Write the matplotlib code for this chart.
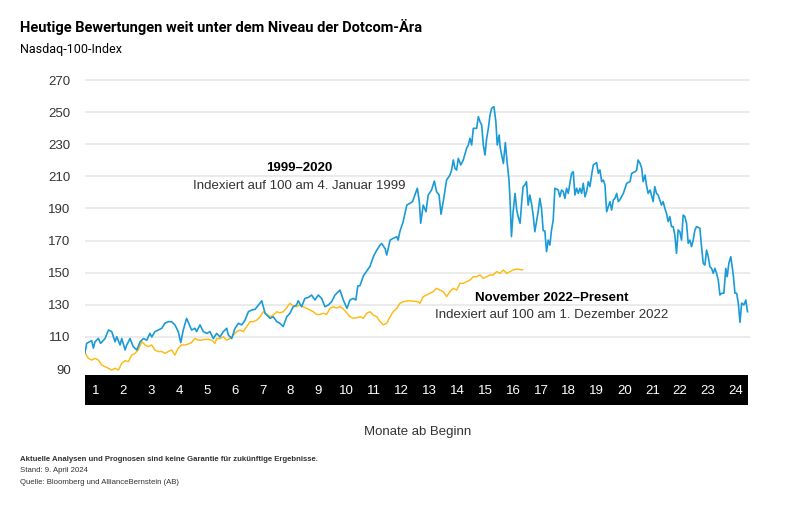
import matplotlib
matplotlib.use("Agg")
import matplotlib.pyplot as plt
from matplotlib import font_manager
import numpy as np

# Nasdaq-100, indexed to 100 at start; x = months since start
months_9920 = [
    0.00, 0.06, 0.24, 0.30, 0.36, 0.48, 0.56, 0.72, 0.84, 0.96, 1.08, 1.14, 1.26, 1.32, 1.44, 1.50,
    1.62, 1.73, 1.86, 1.98, 2.10, 2.22, 2.33, 2.40, 2.51, 2.63, 2.76, 2.87, 2.99, 3.11, 3.23, 3.35,
    3.44, 3.53, 3.65, 3.75, 3.83, 3.95, 4.01, 4.13, 4.25, 4.38, 4.49, 4.61, 4.73, 4.85, 4.97, 5.09,
    5.15, 5.27, 5.39, 5.51, 5.63, 5.75, 5.87, 5.99, 6.11, 6.23, 6.35, 6.47, 6.65, 6.76, 6.89, 7.00,
    7.12, 7.25, 7.36, 7.48, 7.60, 7.66, 7.78, 7.90, 8.02, 8.14, 8.26, 8.38, 8.50, 8.62, 8.74, 8.86,
    8.98, 9.16, 9.28, 9.41, 9.52, 9.64, 9.73, 9.80, 9.88, 10.00, 10.12, 10.24, 10.36, 10.48, 10.60,
    10.66, 10.78, 10.84, 10.96, 11.07, 11.20, 11.25, 11.31, 11.43, 11.56, 11.67, 11.77, 11.85, 11.94,
    12.01, 12.06, 12.15, 12.25, 12.33, 12.45, 12.55, 12.63, 12.72, 12.79, 12.87, 12.99, 13.11, 13.17,
    13.23, 13.29, 13.35, 13.41, 13.50, 13.59, 13.71, 13.77, 13.83, 13.89, 13.95, 14.07, 14.13, 14.19,
    14.25, 14.31, 14.37, 14.43, 14.49, 14.55, 14.61, 14.69, 14.76, 14.81, 14.88, 14.91, 15.03, 15.10,
    15.17, 15.23, 15.27, 15.32, 15.38, 15.45, 15.51, 15.56, 15.63, 15.69, 15.74, 15.80, 15.86, 15.92,
    15.98, 16.05, 16.10, 16.16, 16.23, 16.28, 16.34, 16.40, 16.46, 16.52, 16.58, 16.64, 16.70, 16.76,
    16.82, 16.88, 17.00, 17.06, 17.12, 17.18, 17.24, 17.30, 17.36, 17.42, 17.48, 17.54, 17.60, 17.66,
    17.72, 17.78, 17.84, 17.90, 17.96, 18.02, 18.08, 18.14, 18.20, 18.26, 18.38, 18.44, 18.50, 18.56,
    18.62, 18.68, 18.74, 18.80, 18.86, 18.92, 18.98, 19.04, 19.10, 19.16, 19.22, 19.34, 19.46, 19.58,
    19.64, 19.76, 19.82, 19.87, 19.94, 20.00, 20.05, 20.12, 20.17, 20.23, 20.30, 20.35, 20.41, 20.47,
    20.53, 20.59, 20.65, 20.71, 20.77, 20.83, 20.89, 20.95, 21.01, 21.07, 21.13, 21.19, 21.25, 21.31,
    21.37, 21.43, 21.49, 21.55, 21.61, 21.67, 21.73, 21.79, 21.85, 21.91, 21.97, 22.09, 22.15, 22.21,
    22.27, 22.33, 22.39, 22.45, 22.51, 22.57, 22.63, 22.69, 22.75, 22.81, 22.87, 22.95, 23.02, 23.07,
    23.13, 23.20, 23.29, 23.35, 23.41, 23.47, 23.53, 23.59, 23.67, 23.74, 23.80,
]
nasdaq_9920 = [
    100.2, 106.0, 107.7, 103.0, 107.0, 109.1, 106.0, 109.0, 114.3, 113.3, 107.0, 110.1, 105.0, 109.0, 101.9, 105.0,
    109.0, 104.0, 101.9, 107.0, 109.0, 108.0, 112.2, 110.0, 113.3, 114.3, 115.4, 118.5, 119.5, 119.5, 117.5, 113.3,
    106.5, 114.3, 121.6, 117.5, 114.3, 115.4, 113.3, 117.5, 113.3, 112.2, 113.3, 109.0, 112.2, 110.0, 113.3, 115.4,
    111.2, 109.0, 115.4, 118.5, 117.5, 120.5, 125.7, 126.8, 127.2, 129.9, 132.5, 124.7, 121.6, 122.6, 119.5, 118.5,
    116.5, 122.6, 124.7, 128.8, 129.9, 132.5, 128.8, 134.0, 134.6, 136.1, 133.0, 136.1, 134.0, 128.8, 129.9, 131.9,
    136.1, 139.2, 133.0, 127.8, 133.0, 134.0, 133.0, 141.7, 142.0, 148.0, 151.0, 154.0, 160.0, 164.0, 167.2,
    168.2, 165.0, 161.0, 170.3, 171.4, 172.4, 170.3, 175.5, 181.8, 192.1, 193.2, 194.3, 198.4, 202.6,
    194.3, 180.8, 192.1, 188.0, 198.4, 201.5, 207.1, 200.5, 198.4, 186.4, 194.3, 207.7, 210.8, 213.9,
    220.2, 215.0, 213.9, 221.2, 217.1, 220.2, 227.5, 229.5, 233.7, 229.5, 239.9, 239.9, 247.2, 244.1,
    242.0, 229.5, 223.3, 233.7, 239.9, 248.2, 252.4, 253.4, 244.1, 229.5, 235.8, 228.5, 218.0, 231.0,
    218.0, 208.0, 195.3, 172.5, 188.0, 199.4, 189.0, 184.9, 180.8, 194.3, 203.6, 204.6, 206.7, 192.1,
    198.4, 192.1, 185.9, 175.5, 182.8, 188.0, 196.3, 190.1, 176.2, 176.0, 163.1, 170.3, 167.2, 176.6,
    182.8, 202.6, 201.5, 197.3, 201.5, 200.5, 196.3, 202.6, 199.4, 205.7, 211.9, 212.9, 198.4, 202.6,
    199.4, 202.6, 199.4, 205.7, 197.3, 200.5, 206.7, 203.6, 210.8, 217.1, 218.6, 211.9, 214.0, 206.7,
    207.7, 204.6, 188.0, 191.1, 194.3, 189.0, 195.3, 196.3, 199.4, 194.3, 195.5, 199.4, 205.7, 206.7,
    211.9, 212.9, 213.9, 220.2, 218.1, 215.0, 206.7, 210.8, 204.6, 199.4, 201.5, 198.4, 194.3, 203.6,
    199.4, 198.4, 195.3, 192.1, 194.3, 190.1, 187.0, 181.8, 184.9, 178.7, 178.7, 173.5, 162.1, 176.6,
    175.5, 170.3, 185.9, 184.9, 180.8, 168.3, 170.3, 166.2, 170.3, 176.6, 178.7, 177.7, 166.2, 155.8,
    154.8, 164.1, 160.0, 153.8, 152.7, 149.6, 152.7, 149.6, 145.4, 136.1, 137.2, 137.2, 152.7, 147.5,
    155.8, 160.0, 148.6, 137.2, 137.2, 131.1, 119.1, 131.1, 129.9, 133.0, 125.7,
]

months_22 = [
    0.00, 0.12, 0.24, 0.36, 0.48, 0.60, 0.72, 0.84, 0.96, 1.08, 1.20, 1.32, 1.44, 1.56, 1.68, 1.80,
    1.91, 2.04, 2.16, 2.27, 2.40, 2.51, 2.63, 2.76, 2.87, 2.99, 3.11, 3.23, 3.35, 3.47, 3.59, 3.71,
    3.83, 3.95, 4.07, 4.19, 4.31, 4.43, 4.55, 4.67, 4.73, 4.85, 4.97, 5.09, 5.21, 5.33, 5.45, 5.57,
    5.69, 5.81, 5.93, 6.05, 6.17, 6.29, 6.40, 6.53, 6.65, 6.76, 6.89, 7.00, 7.12, 7.25, 7.36, 7.48,
    7.60, 7.72, 7.84, 7.96, 8.08, 8.20, 8.32, 8.44, 8.56, 8.68, 8.80, 8.92, 9.04, 9.16, 9.28, 9.40,
    9.52, 9.64, 9.76, 9.88, 10.00, 10.12, 10.24, 10.36, 10.48, 10.60, 10.72, 10.84, 10.96, 11.07,
    11.20, 11.31, 11.43, 11.61, 11.79, 11.97, 12.03, 12.15, 12.27, 12.39, 12.51, 12.63, 12.75, 12.87,
    12.99, 13.11, 13.23, 13.35, 13.47, 13.59, 13.71, 13.83, 13.95, 14.07, 14.19, 14.31, 14.43, 14.55,
    14.67, 14.79, 14.91, 15.03, 15.15, 15.27, 15.38, 15.51, 15.63, 15.72,
]
nasdaq_22 = [
    100.2, 96.7, 95.6, 96.7, 95.6, 92.5, 91.5, 90.5, 89.4, 90.5, 89.4, 93.6, 95.2, 94.6, 98.7, 99.8,
    101.9, 107.0, 105.0, 104.0, 105.0, 101.9, 100.9, 100.9, 99.8, 100.9, 101.9, 98.7, 103.0, 105.0, 105.0, 105.6,
    106.5, 109.1, 108.0, 108.0, 108.5, 108.5, 108.0, 106.0, 109.0, 109.0, 110.1, 108.0, 109.0, 111.2, 113.3, 114.3,
    113.3, 116.5, 119.5, 119.5, 120.5, 122.6, 125.7, 124.2, 122.6, 123.6, 125.7, 125.0, 125.7, 128.3, 130.9, 129.3,
    128.8, 129.9, 128.8, 127.8, 126.8, 125.7, 124.0, 124.0, 124.7, 124.0, 127.8, 128.8, 128.0, 129.0, 127.5, 125.0,
    122.6, 121.6, 122.0, 122.6, 121.6, 124.7, 125.7, 123.6, 122.6, 119.5, 117.5, 118.5, 122.6, 125.7,
    127.8, 130.9, 131.9, 132.5, 132.3, 131.9, 130.9, 135.1, 136.1, 137.2, 138.2, 140.3, 139.2, 138.2,
    135.1, 138.2, 140.3, 139.2, 143.4, 143.4, 144.4, 145.4, 147.5, 147.5, 148.6, 146.5, 147.5, 148.6,
    148.6, 150.7, 149.6, 151.7, 149.6, 150.7, 151.7, 152.3, 152.0, 151.7,
]

y_ticks = [90, 110, 130, 150, 170, 190, 210, 230, 250, 270]
month_labels = [str(m) for m in range(1, 25)]

title = "Heutige Bewertungen weit unter dem Niveau der Dotcom-Ära"
subtitle = "Nasdaq-100-Index"
footnotes = ["Aktuelle Analysen und Prognosen sind keine Garantie für zukünftige Ergebnisse.",
             "Stand: 9. April 2024",
             "Quelle: Bloomberg und AllianceBernstein (AB)"]

BLUE = "#1a9bd7"
YELLOW = "#fdbb12"
TEXT = "#333333"

available = {f.name for f in font_manager.fontManager.ttflist}
narrow = "Liberation Sans Narrow" if "Liberation Sans Narrow" in available else "Roboto"
plt.rcParams["font.family"] = ["Liberation Sans", "DejaVu Sans"]

fig = plt.figure(figsize=(7.93, 5.19), dpi=100)

ax = fig.add_axes([85 / 793, 1 - 375 / 519, 665 / 793, 298.2 / 519])
ax.set_xlim(0, 23.89)
ax.set_ylim(86.3, 272)
for v in y_ticks[1:]:
    ax.axhline(v, color="#e5e5e5", lw=1.1, zorder=0)
ax.plot(months_9920, nasdaq_9920, color=BLUE, lw=1.2, zorder=3)
ax.plot(months_22, nasdaq_22, color=YELLOW, lw=1.05, zorder=2)

ax.set_yticks(y_ticks)
ax.set_yticklabels([str(v) for v in y_ticks])
ax.tick_params(axis="y", length=0, pad=10.3, labelsize=9.5, labelcolor=TEXT)
ax.set_xticks([])
for s in ax.spines.values():
    s.set_visible(False)

# annotations
ax.text(7.69, 215.2, "1999\u20132020", ha="center", va="center", fontsize=9.5,
        fontweight="bold", color="black")
ax.text(7.69, 204.0, "Indexiert auf 100 am 4. Januar 1999", ha="center", va="center",
        fontsize=9.5, color=TEXT)
ax.text(16.77, 134.2, "November 2022\u2013Present", ha="center", va="center", fontsize=9.5,
        fontweight="bold", color="black")
ax.text(16.77, 123.6, "Indexiert auf 100 am 1. Dezember 2022", ha="center", va="center",
        fontsize=9.5, color=TEXT)

# black month band
band = fig.add_axes([85 / 793, 1 - 405 / 519, 663 / 793, 30 / 519])
band.set_facecolor("black")
band.set_xlim(0, 23.82)
band.set_ylim(0, 1)
band.set_xticks([])
band.set_yticks([])
for s in band.spines.values():
    s.set_visible(False)
for i, lab in enumerate(month_labels):
    band.text(i + 1 - 0.62, 0.48, lab, ha="center", va="center", color="white", fontsize=9.5)

fig.text(418 / 793, 1 - 432 / 519, "Monate ab Beginn", ha="center", va="center",
         fontsize=9.5, color=TEXT)

fig.text(20 / 793, 1 - 27 / 519, title, ha="left", va="center", fontsize=10.5,
         fontweight="bold", family=narrow, color="black")
fig.text(20 / 793, 1 - 50 / 519, subtitle, ha="left", va="center", fontsize=9,
         family=narrow, color="black")

fig.text(20 / 793, 1 - 459.5 / 519, footnotes[0], ha="left", va="center", fontsize=5.6,
         fontweight="bold", color=TEXT)
fig.text(20 / 793, 1 - 470.8 / 519, footnotes[1], ha="left", va="center", fontsize=5.6, color=TEXT)
fig.text(20 / 793, 1 - 483 / 519, footnotes[2], ha="left", va="center", fontsize=5.6, color=TEXT)

fig.savefig("out.png", dpi=100, facecolor="white")
